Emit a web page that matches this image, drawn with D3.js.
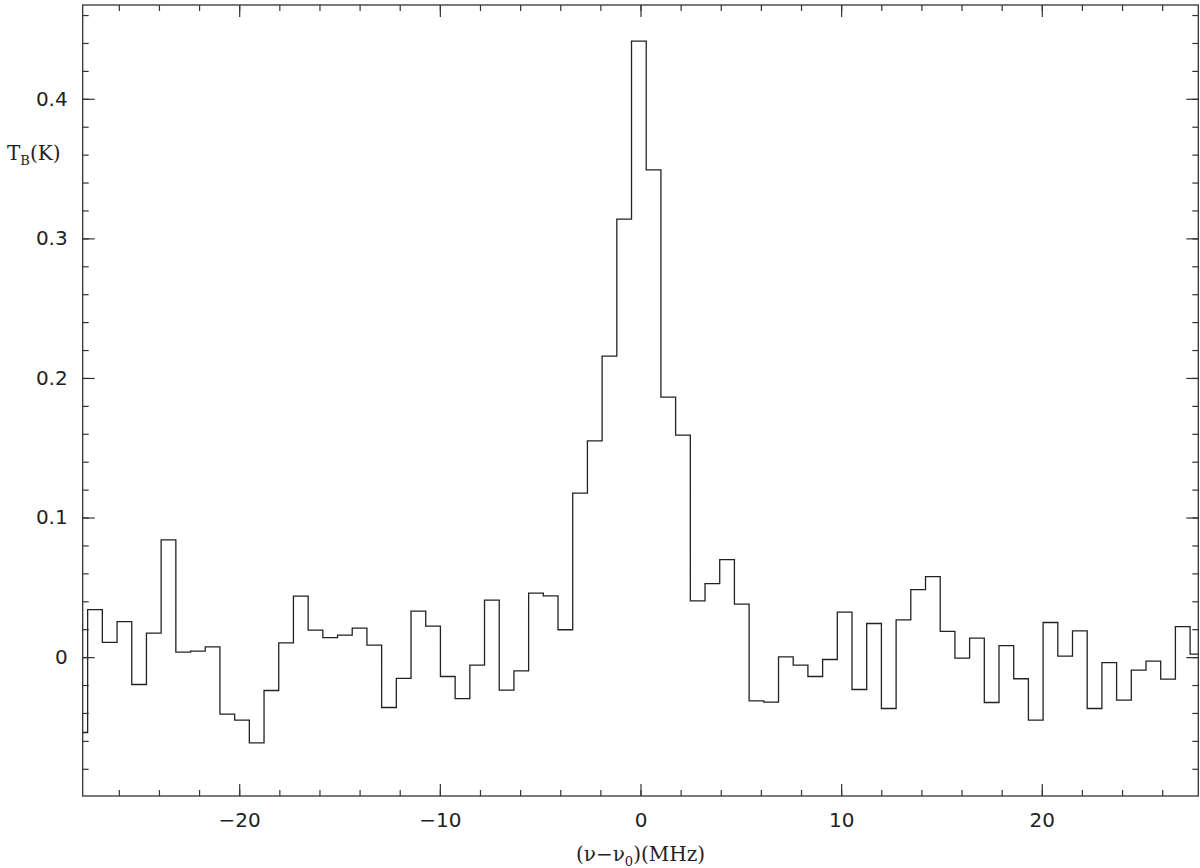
<!DOCTYPE html>
<html>
<head>
<meta charset="utf-8">
<script src="https://cdn.jsdelivr.net/npm/d3@7"></script>
<style>
    body { margin: 0; background: #fff; }
    svg { display: block; }
    .axis text { font-family: "DejaVu Sans", sans-serif; font-size: 20px; fill: #222; }
    .axis line { stroke: #333; stroke-width: 1.2; }
    .title { font-family: "DejaVu Serif", serif; font-size: 20px; fill: #222; }
</style>
</head>
<body>
<svg id="chart" width="1200" height="868"></svg>
<script>
// Spectrum channels: first (partly clipped) channel centre and channel width, in MHz
let channelStart = -27.92;
let channelWidth = 0.7326;

// Brightness temperature per channel (K) left to right
let tb = [
    -0.054, 0.034, 0.0105, 0.0255, -0.0196, 0.0172, 0.084, 0.0036, 0.0043, 0.0074,
    -0.0408, -0.0451, -0.0614, -0.0239, 0.0102, 0.0437, 0.0193, 0.014, 0.0158, 0.0208,
    0.0086, -0.0361, -0.0153, 0.033, 0.0222, -0.0139, -0.0297, -0.0057, 0.0408, -0.0236,
    -0.0098, 0.0458, 0.0439, 0.0196, 0.1175, 0.1549, 0.2156, 0.3138, 0.4413, 0.3491,
    0.1862, 0.159, 0.0403, 0.0527, 0.0699, 0.038, -0.0313, -0.0322, 0.0002, -0.0057,
    -0.0139, -0.0017, 0.0322, -0.0232, 0.0241, -0.0368, 0.0267, 0.0484, 0.0577, 0.0184,
    -0.0007, 0.0136, -0.0325, 0.0083, -0.0155, -0.0451, 0.0248, 0.0007, 0.0188, -0.0368,
    -0.0039, -0.0308, -0.0093, -0.0029, -0.0158, 0.0219, 0.0021
];

// Axis ticks
let xMajor = [-20, -10, 0, 10, 20];
let xMinor = d3.range(-26, 27, 2);
let yMajor = [0, 0.1, 0.2, 0.3, 0.4];
let yMinor = d3.range(-0.08, 0.47, 0.02);

let svg = d3.select("#chart");

// Plot frame
let plotLeft = 82.7, plotRight = 1198.3, plotTop = 5, plotBottom = 796;

let x = d3.scaleLinear().domain([-27.8, 27.8]).range([plotLeft, plotRight]);
let y = d3.scaleLinear().domain([-0.0995, 0.4672]).range([plotBottom, plotTop]);

// Clip so the partial edge channels stop at the frame
svg.append("clipPath").attr("id", "plotClip")
    .append("rect")
    .attr("x", plotLeft).attr("y", plotTop)
    .attr("width", plotRight - plotLeft).attr("height", plotBottom - plotTop);

// Steps: each channel drawn from its left edge to its right edge
let steps = tb.map(function (d, i) {
    return [channelStart + i * channelWidth - channelWidth / 2, d];
});
steps.push([channelStart + tb.length * channelWidth - channelWidth / 2, tb[tb.length - 1]]);

let line = d3.line()
    .x(function (d) { return x(d[0]); })
    .y(function (d) { return y(d[1]); })
    .curve(d3.curveStepAfter);

svg.append("path")
    .datum(steps)
    .attr("clip-path", "url(#plotClip)")
    .attr("fill", "none")
    .attr("stroke", "#222")
    .attr("stroke-width", 1.3)
    .attr("d", line);

// Ticks on all four sides, pointing inwards
function addAxis(axis, tx, ty) {
    let g = svg.append("g")
        .attr("class", "axis")
        .attr("transform", "translate(" + tx + "," + ty + ")")
        .call(axis);
    g.select(".domain").remove();
    return g;
}

addAxis(d3.axisBottom(x).tickValues(xMinor).tickSize(-6).tickFormat(""), 0, plotBottom);
addAxis(d3.axisBottom(x).tickValues(xMajor).tickSize(-12).tickPadding(17)
    .tickFormat(d3.format("d")), 0, plotBottom);
addAxis(d3.axisTop(x).tickValues(xMinor).tickSize(-6).tickFormat(""), 0, plotTop);
addAxis(d3.axisTop(x).tickValues(xMajor).tickSize(-12).tickFormat(""), 0, plotTop);

addAxis(d3.axisLeft(y).tickValues(yMinor).tickSize(-6).tickFormat(""), plotLeft, 0);
addAxis(d3.axisLeft(y).tickValues(yMajor).tickSize(-12).tickPadding(15)
    .tickFormat(function (d) { return d === 0 ? "0" : d3.format(".1f")(d); }), plotLeft, 0);
addAxis(d3.axisRight(y).tickValues(yMinor).tickSize(-6).tickFormat(""), plotRight, 0);
addAxis(d3.axisRight(y).tickValues(yMajor).tickSize(-12).tickFormat(""), plotRight, 0);

svg.append("rect")
    .attr("x", plotLeft).attr("y", plotTop)
    .attr("width", plotRight - plotLeft).attr("height", plotBottom - plotTop)
    .attr("fill", "none")
    .attr("stroke", "#333")
    .attr("stroke-width", 1.3);

// Axis titles
let yTitle = svg.append("text").attr("class", "title").attr("x", 7).attr("y", 160);
yTitle.append("tspan").text("T");
yTitle.append("tspan").attr("dy", 5).attr("font-size", 13).text("B");
yTitle.append("tspan").attr("dy", -5).text("(K)");

let xTitle = svg.append("text").attr("class", "title")
    .attr("x", (plotLeft + plotRight) / 2).attr("y", 861)
    .attr("text-anchor", "middle");
xTitle.append("tspan").text("(\u03bd\u2212\u03bd");
xTitle.append("tspan").attr("dy", 5).attr("font-size", 13).text("0");
xTitle.append("tspan").attr("dy", -5).text(")(MHz)");
</script>
</body>
</html>
